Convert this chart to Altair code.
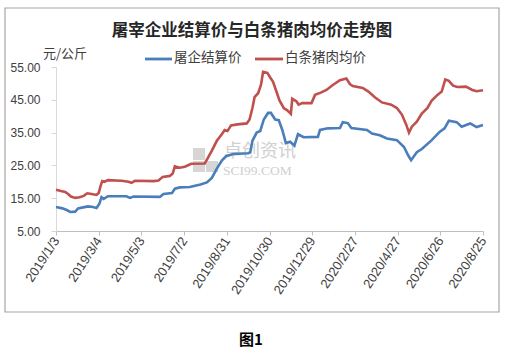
import altair as alt
import pandas as pd

# ---------------- data ----------------
red_dates = ["2019-01-03","2019-01-10","2019-01-16","2019-01-20","2019-01-24","2019-01-30",
             "2019-02-05","2019-02-11","2019-02-16","2019-02-22","2019-03-01","2019-03-04",
             "2019-03-07","2019-03-09","2019-03-12","2019-03-17","2019-04-05","2019-04-15",
             "2019-04-19","2019-04-24","2019-05-20","2019-05-27","2019-06-02","2019-06-12",
             "2019-06-16","2019-06-19","2019-06-26","2019-07-03","2019-07-12","2019-07-31",
             "2019-08-05","2019-08-10","2019-08-17","2019-08-24","2019-08-28","2019-09-01",
             "2019-09-06","2019-09-15","2019-09-28","2019-10-02","2019-10-06","2019-10-09",
             "2019-10-14","2019-10-18","2019-10-21","2019-10-27","2019-10-31","2019-11-04",
             "2019-11-08","2019-11-13","2019-11-19","2019-11-24","2019-11-29","2019-12-01",
             "2019-12-07","2019-12-10","2019-12-15","2019-12-28","2020-01-02","2020-01-10",
             "2020-01-18","2020-01-27","2020-02-06","2020-02-15","2020-02-20","2020-02-24",
             "2020-03-09","2020-03-17","2020-03-26","2020-04-05","2020-04-18","2020-04-26",
             "2020-05-03","2020-05-09","2020-05-13","2020-05-17","2020-05-24","2020-05-31",
             "2020-06-08","2020-06-14","2020-06-22","2020-06-28","2020-07-03","2020-07-08",
             "2020-07-14","2020-07-20","2020-08-01","2020-08-10","2020-08-16","2020-08-25"]
red_vals = [17.6,17.2,16.9,16.3,15.5,15.1,
            15.3,15.7,16.5,16.3,16.0,16.6,
            19.0,20.2,20.0,20.5,20.3,20.0,
            19.7,20.3,20.2,20.4,21.5,21.8,
            22.5,24.7,24.3,24.6,25.5,25.6,
            27.5,29.5,32.5,34.5,35.8,35.5,
            37.2,37.5,37.8,39.0,42.5,45.8,
            47.0,49.5,53.5,53.2,51.8,50.5,
            48.0,44.8,42.5,41.8,40.7,45.3,
            44.5,43.5,44.0,44.0,46.5,47.2,
            48.0,49.5,51.0,51.5,49.8,49.2,
            48.6,47.5,45.8,44.2,43.5,42.5,
            40.5,37.5,35.0,36.8,38.3,40.8,
            42.5,44.8,46.5,47.5,51.2,50.8,
            49.3,48.9,49.0,48.0,47.6,47.9]

blue_dates = ["2019-01-03","2019-01-12","2019-01-18","2019-01-23","2019-01-30","2019-02-03",
              "2019-02-10","2019-02-17","2019-02-24","2019-03-01","2019-03-05","2019-03-08",
              "2019-03-11","2019-03-17","2019-04-12","2019-04-17","2019-04-22","2019-05-29",
              "2019-06-03","2019-06-15","2019-06-19","2019-06-26","2019-07-10","2019-07-25",
              "2019-08-03","2019-08-10","2019-08-17","2019-08-24","2019-08-30","2019-09-09",
              "2019-09-30","2019-10-03","2019-10-06","2019-10-12","2019-10-17","2019-10-22",
              "2019-10-28","2019-11-01","2019-11-04","2019-11-07","2019-11-12","2019-11-17",
              "2019-11-22","2019-11-28","2019-12-04","2019-12-09","2019-12-17","2020-01-06",
              "2020-01-09","2020-01-20","2020-02-06","2020-02-10","2020-02-17","2020-02-22",
              "2020-03-15","2020-03-22","2020-04-02","2020-04-12","2020-04-26","2020-05-06",
              "2020-05-12","2020-05-16","2020-05-24","2020-05-31","2020-06-14","2020-06-25",
              "2020-07-02","2020-07-08","2020-07-19","2020-07-26","2020-08-07","2020-08-16",
              "2020-08-25"]
blue_vals = [12.3,11.9,11.4,10.8,10.9,11.9,
             12.2,12.5,12.3,12.0,13.3,15.3,
             14.8,15.6,15.6,15.1,15.5,15.4,
             16.3,16.6,17.9,18.3,18.4,19.2,
             19.8,21.2,24.0,26.5,27.8,28.5,
             28.7,29.0,32.5,35.0,35.5,39.0,
             41.0,41.0,40.0,39.0,38.8,35.8,
             31.8,32.2,31.0,34.5,33.6,33.7,
             35.8,36.3,36.4,38.2,37.9,36.4,
             35.8,34.7,34.2,33.2,32.7,30.6,
             28.0,26.6,29.0,30.0,32.7,35.2,
             36.3,38.6,38.2,36.8,37.8,36.7,
             37.3]

tick_dates = ["2019-01-03","2019-03-04","2019-05-03","2019-07-02","2019-08-31","2019-10-30",
              "2019-12-29","2020-02-27","2020-04-27","2020-06-26","2020-08-25"]
y_ticks = [5, 15, 25, 35, 45, 55]

series_blue = "屠企结算价"
series_red = "白条猪肉均价"
title_text = "屠宰企业结算价与白条猪肉均价走势图"
unit_text = "元/公斤"
caption_text = "图1"
wm_cn = "卓创资讯"
wm_en = "SCI99.COM"

BLUE = "#4A7EBB"
RED = "#C0504D"
CJK = "Noto Sans CJK SC"
NUM = "Liberation Sans"

# ---------------- build ----------------
df = pd.concat([
    pd.DataFrame({"date": blue_dates, "value": blue_vals, "series": series_blue}),
    pd.DataFrame({"date": red_dates, "value": red_vals, "series": series_red}),
], ignore_index=True)

def ms(d):
    return int(pd.Timestamp(d, tz="UTC").value // 10**6)

tick_ms = [ms(d) for d in tick_dates]

W, H = 427, 164
one = pd.DataFrame({"k": [0]})

frame = alt.Chart(one).mark_rect(fill=None, stroke="#a6a6a6", strokeWidth=1.2).encode(
    x=alt.value(-51), x2=alt.value(443), y=alt.value(-59), y2=alt.value(245))

# watermark
wm_rects = alt.Chart(pd.DataFrame({"x": [137, 137, 150], "x2": [149, 149, 162],
                                   "y": [81, 94, 94], "y2": [93, 105, 105]})).mark_rect(
    color="#d6d6d6").encode(x=alt.X("x:Q", scale=None), x2="x2:Q",
                             y=alt.Y("y:Q", scale=None), y2="y2:Q")
wm1 = alt.Chart(pd.DataFrame({"t": [wm_cn]})).mark_text(
    font=CJK, fontSize=18, color="#d0d0d0", align="left", baseline="middle").encode(
    x=alt.value(168), y=alt.value(85), text="t:N")
wm2 = alt.Chart(pd.DataFrame({"t": [wm_en]})).mark_text(
    font="Liberation Serif", fontSize=13.5, color="#d0d0d0", align="left", baseline="middle").encode(
    x=alt.value(167), y=alt.value(104), text="t:N")

lines = alt.Chart(df).mark_line(strokeWidth=2.6, interpolate="linear").encode(
    x=alt.X("date:T",
            scale=alt.Scale(type="utc", domain=[tick_ms[0], tick_ms[-1]]),
            axis=alt.Axis(values=tick_ms, labelExpr="utcFormat(datum.value, '%Y/%-m/%-d')",
                          title=None, grid=False, domainColor="#bfbfbf", tickColor="#bfbfbf",
                          tickSize=4, labelAngle=-57, labelAlign="right", labelBaseline="middle",
                          labelFont=NUM, labelFontSize=13, labelColor="#404040",
                          labelPadding=3, labelOverlap=False, labelFlush=False)),
    y=alt.Y("value:Q",
            scale=alt.Scale(domain=[5, 55], nice=False, zero=False),
            axis=alt.Axis(values=y_ticks, format=".2f", title=None, grid=False,
                          domainColor="#d9d9d9", tickColor="#d9d9d9", tickSize=5,
                          labelFont=NUM, labelFontSize=12, labelColor="#404040",
                          labelPadding=11)),
    color=alt.Color("series:N", scale=alt.Scale(domain=[series_blue, series_red], range=[BLUE, RED]),
                    legend=None),
    detail="series:N",
)

title = alt.Chart(pd.DataFrame({"t": [title_text]})).mark_text(
    font=CJK, fontSize=16.5, fontWeight="bold", color="#262626", align="center", baseline="middle").encode(
    x=alt.value(196), y=alt.value(-36), text="t:N")
unit = alt.Chart(pd.DataFrame({"t": [unit_text]})).mark_text(
    font=CJK, fontSize=13, color="#404040", align="left", baseline="middle").encode(
    x=alt.value(-13), y=alt.value(-13), text="t:N")

leg_blue = alt.Chart(one).mark_rule(color=BLUE, strokeWidth=2.8).encode(
    x=alt.value(89), x2=alt.value(116), y=alt.value(-8))
leg_red = alt.Chart(one).mark_rule(color=RED, strokeWidth=2.8).encode(
    x=alt.value(199), x2=alt.value(227), y=alt.value(-8))
leg_blue_t = alt.Chart(pd.DataFrame({"t": [series_blue]})).mark_text(
    font=CJK, fontSize=13.5, color="#404040", align="left", baseline="middle").encode(
    x=alt.value(118), y=alt.value(-9), text="t:N")
leg_red_t = alt.Chart(pd.DataFrame({"t": [series_red]})).mark_text(
    font=CJK, fontSize=13.5, color="#404040", align="left", baseline="middle").encode(
    x=alt.value(229), y=alt.value(-9), text="t:N")

caption = alt.Chart(pd.DataFrame({"t": [caption_text]})).mark_text(
    font=CJK, fontSize=15, fontWeight="bold", color="#000000", align="center", baseline="middle").encode(
    x=alt.value(195), y=alt.value(273), text="t:N")

chart = alt.layer(
    frame, wm_rects, wm1, wm2, lines, title, unit, leg_blue, leg_red, leg_blue_t, leg_red_t, caption
).properties(
    width=W, height=H,
    autosize=alt.AutoSizeParams(type="none"),
    padding={"left": 56, "top": 67, "right": 23, "bottom": 123},
    background="white",
).configure_view(stroke=None)

chart.save("out.html", embed_options={"renderer": "svg", "actions": False})
